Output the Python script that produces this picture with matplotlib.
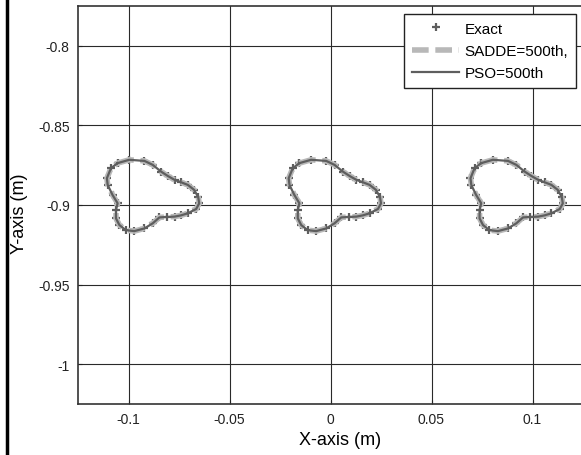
import matplotlib
matplotlib.use('Agg')
import matplotlib.pyplot as plt
from matplotlib.lines import Line2D

plt.rc('font', family=['Liberation Sans', 'DejaVu Sans'])

# outline of one trajectory loop (offsets from its centre)
shape_dx = [-0.0154, -0.0096, -0.0021, 0.0020, 0.0061, 0.0095, 0.0128, 0.0162,
            0.0194, 0.0225, 0.0245, 0.0250, 0.0235, 0.0194, 0.0160, 0.0128,
            0.0090, 0.0053, 0.0020, -0.0021, -0.0071, -0.0113, -0.0145, -0.0162,
            -0.0162, -0.0154, -0.0179, -0.0203, -0.0207, -0.0187, -0.0154]
shape_y = [-0.8737, -0.8716, -0.8723, -0.8748, -0.8790, -0.8818, -0.8842, -0.8858,
           -0.8874, -0.8905, -0.8950, -0.8990, -0.9025, -0.9052, -0.9065, -0.9073,
           -0.9075, -0.9078, -0.9115, -0.9147, -0.9164, -0.9158, -0.9126, -0.9084,
           -0.9032, -0.8989, -0.8937, -0.8874, -0.8832, -0.8769, -0.8737]
centres_x = [-0.09, 0.0, 0.09]

xticks = [-0.1, -0.05, 0, 0.05, 0.1]
yticks = [-1, -0.95, -0.9, -0.85, -0.8]

fig = plt.figure(figsize=(5.81, 4.56), dpi=100)
ax = fig.add_axes([78/581, 1-405/456, 505/581, 398/456])

for i, cx in enumerate(centres_x):
    xs = [cx + d for d in shape_dx]
    ax.plot(xs, shape_y, '+', color='#5e5e5e', ms=6, mew=1.6,
            label='Exact' if i == 0 else None, zorder=3)
    ax.plot(xs, shape_y, '--', color='#b8b8b8', lw=4, dashes=(3, 1.2),
            label='SADDE=500th,' if i == 0 else None, zorder=4)
    ax.plot(xs, shape_y, '-', color='#5e5e5e', lw=1.6,
            label='PSO=500th' if i == 0 else None, zorder=5)

ax.set_xlim(-0.125, 0.125)
ax.set_ylim(-1.025, -0.775)
ax.set_xticks(xticks)
ax.set_xticklabels(['-0.1', '-0.05', '0', '0.05', '0.1'])
ax.set_yticks(yticks)
ax.set_yticklabels(['-1', '-0.95', '-0.9', '-0.85', '-0.8'])
ax.tick_params(direction='in', length=3, labelsize=10, pad=6, colors='#222222')
ax.grid(True, color='#2a2a2a', lw=0.8, ls='-')
ax.set_axisbelow(True)
for s in ax.spines.values():
    s.set_color('#333333')
    s.set_linewidth(1.2)

ax.set_xlabel('X-axis (m)', fontsize=13)
ax.set_ylabel('Y-axis (m)', fontsize=13)
ax.xaxis.set_label_coords((340-78)/505, -27/398)
ax.yaxis.set_label_coords((28-78)/505, 0.48)

leg = ax.legend(loc='upper right', bbox_to_anchor=(576/581, 1-15/456),
                bbox_transform=fig.transFigure, borderaxespad=0,
                fancybox=False, framealpha=1, edgecolor='#222222',
                fontsize=11, handlelength=3.1, handletextpad=0.35,
                labelspacing=0.55, borderpad=0.5)
leg.get_frame().set_linewidth(1.0)

# left border of the figure
fig.add_artist(Line2D([7/581, 7/581], [0, 1], color='black', lw=2.5,
                      transform=fig.transFigure))

fig.savefig('out.png', dpi=100)
